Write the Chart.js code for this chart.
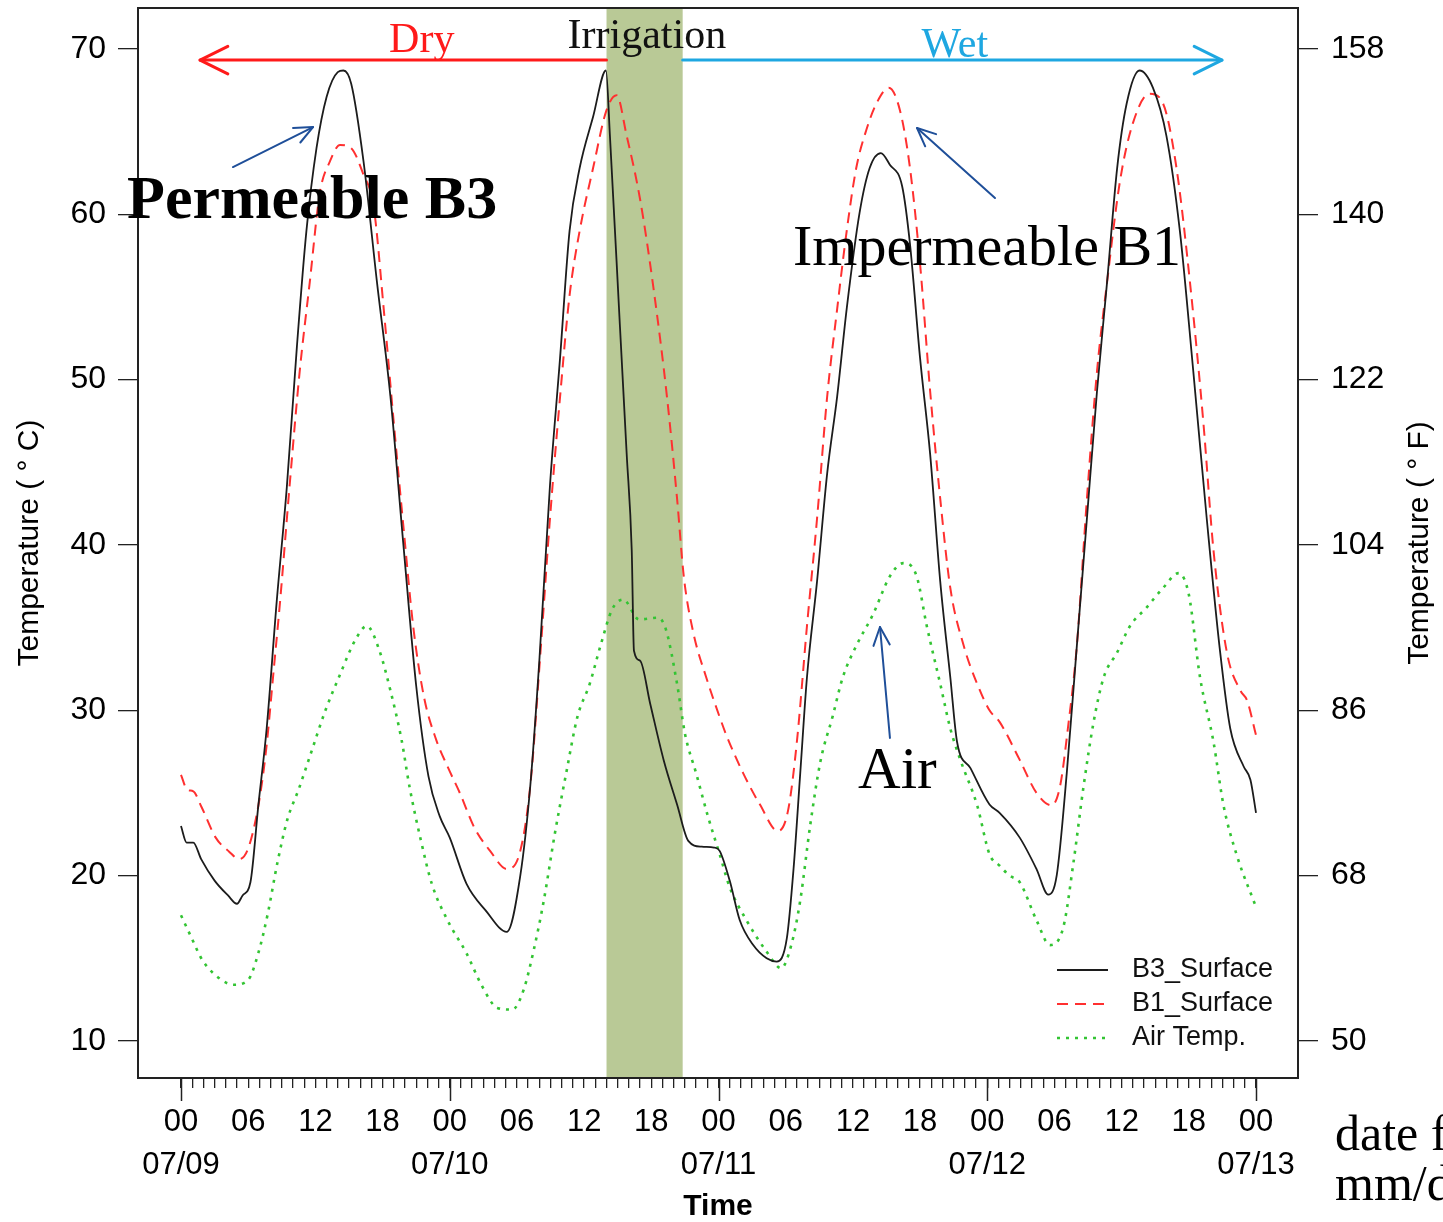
<!DOCTYPE html>
<html>
<head>
<meta charset="utf-8">
<script src="https://cdn.jsdelivr.net/npm/chart.js@4.4.1/dist/chart.umd.min.js"></script>
<style>
html,body{margin:0;padding:0;background:#ffffff;}
canvas{display:block;}
</style>
</head>
<body>
<canvas id="c" width="1443" height="1222"></canvas>
<script>
// ---------------- DATA (hours since 07/09 00:00, temperature in deg C) ----------------
const b3Hours = [0,0.5,1.1,1.8,3.0,4.2,5.0,5.5,6.2,6.9,7.65,8.55,9.45,10.35,11.2,12.1,13.0,14.0,14.5,15.2,16.3,17.5,18.7,19.85,21.0,22.1,23.1,24.0,25.5,27.2,29.1,30.3,31.2,32.0,32.95,33.85,34.7,35.6,36.8,37.95,38.3,39.2,39.8,40.25,40.45,41.0,41.9,43.1,44.3,45.3,46.5,47.6,48.1,49.0,49.9,51.1,52.3,53.2,54.1,54.7,55.3,55.9,56.8,57.7,58.6,59.45,60.6,61.5,62.5,63.3,64.4,65.1,66.0,66.9,67.8,68.7,69.3,70.5,72.2,73.1,74.9,76.4,77.45,78.2,79.1,80.0,80.9,81.8,82.7,83.6,84.45,85.6,86.8,88.0,89.2,90.4,91.6,92.8,93.7,94.9,95.5,96.0];
const b3Temp  = [23.0,22.0,22.0,21.0,19.7,18.8,18.3,18.8,19.6,24.2,28.9,36.6,43.5,52.0,59.0,64.0,67.1,68.6,68.7,67.9,63.2,55.9,49.0,40.1,31.5,26.0,23.6,22.3,19.5,17.9,16.6,20.0,25.5,33.0,43.6,51.3,59.0,62.8,65.9,68.7,64.8,53.2,45.5,39.7,33.6,33.0,30.4,27.0,24.3,22.1,21.75,21.7,21.5,19.7,17.3,15.8,15.0,14.8,16.2,20.4,26.2,32.0,37.8,44.3,49.0,54.3,60.1,62.8,63.7,63.0,61.7,58.2,51.3,45.5,37.8,32.0,28.1,26.5,24.3,23.8,22.3,20.4,18.85,20.0,26.2,33.9,41.6,49.3,55.9,62.8,66.7,68.7,67.65,64.75,59.0,50.5,41.6,33.5,28.9,26.6,25.8,23.8];

const b1Hours = [0,0.55,1.1,1.8,3.1,4.3,5.2,6.0,6.9,7.6,8.3,8.85,9.7,10.6,11.5,12.4,13.3,14.2,15.2,16.3,17.2,18.1,19.0,19.85,20.75,21.7,22.8,23.8,24.9,26.2,27.6,29.1,30.3,31.2,32.1,32.95,33.85,34.7,35.6,36.8,38.0,38.9,39.8,41.0,42.2,43.4,44.3,44.9,45.75,46.9,48.1,48.7,50.2,51.7,53.3,54.2,55.0,55.9,56.8,57.7,58.6,59.45,60.3,61.2,62.1,63.2,64.2,65.1,66.0,66.9,67.8,68.7,69.9,71.1,72.2,73.1,74.9,76.4,77.75,78.5,79.2,80.0,80.9,81.8,82.7,83.85,85.0,86.5,87.7,88.9,90.1,91.3,92.2,93.4,94.6,95.2,96.0];
const b1Temp  = [26.1,25.2,25.1,24.2,22.3,21.45,21.0,21.65,24.2,27.6,32.6,36.6,43.6,50.5,55.9,61.3,63.2,64.2,64.0,62.4,60.5,54.3,47.4,41.2,35.0,30.8,28.2,26.6,25.0,22.9,21.5,20.4,21.5,25.5,33.5,41.6,48.95,55.1,59.0,62.8,66.3,67.2,64.75,60.9,55.5,48.95,42.8,38.1,34.7,32.0,29.6,28.5,26.2,24.3,22.7,23.9,28.1,35.1,41.6,48.95,54.3,59.0,62.8,65.1,66.7,67.65,66.3,62.8,57.0,49.3,42.8,37.4,33.9,31.6,30.0,29.3,27.0,25.0,24.25,25.4,28.9,33.9,42.8,50.5,55.9,62.0,65.5,67.3,66.7,62.8,55.9,47.4,39.7,33.5,31.2,30.6,28.5];

const airHours = [0,0.9,1.9,3.6,4.7,6.0,6.9,7.75,8.6,9.5,10.5,11.5,12.9,14.1,15.6,16.6,17.7,18.7,19.7,20.4,21.4,22.4,23.8,25.5,26.9,28.25,29.6,30.6,31.5,32.4,33.4,34.4,35.4,36.5,37.5,38.5,39.5,40.9,42.6,43.3,44.3,45.0,46.0,47.05,48.1,49.0,50.5,52.3,53.6,54.5,55.3,56.2,57.1,58.2,59.1,60.3,61.8,63.3,64.5,65.7,66.6,67.8,68.7,69.6,71.1,72.2,73.1,74.0,74.9,76.4,77.6,78.8,79.7,80.6,81.5,82.4,83.6,84.75,86.2,87.7,89.1,90.0,91.0,92.2,93.1,94.3,96.0];
const airTemp  = [17.6,16.3,14.9,13.7,13.4,13.7,15.3,17.7,20.75,23.4,25.2,27.2,30.0,32.0,34.3,35.1,33.65,31.2,28.2,25.4,22.2,19.5,17.3,15.3,13.3,12.0,11.9,13.1,15.5,18.5,22.6,26.2,29.6,31.6,34.0,36.1,36.7,35.5,35.6,34.9,31.6,28.6,26.2,23.6,21.3,19.3,17.3,15.4,14.4,15.8,18.5,23.1,26.9,29.65,32.0,33.9,35.8,38.1,38.9,38.1,35.1,31.6,28.9,27.0,24.25,21.3,20.6,20.0,19.6,17.3,15.8,16.9,20.8,25.4,29.3,32.0,33.5,35.1,36.2,37.4,38.3,37.0,32.0,28.1,24.25,21.2,18.1];

const seriesLabels = ['B3_Surface','B1_Surface','Air Temp.'];
const dayLabels   = ['07/09','07/10','07/11','07/12','07/13'];
const hourLabels  = ['00','06','12','18'];
const yTicksC     = [10,20,30,40,50,60,70];
const yTicksF     = [50,68,86,104,122,140,158];
const irrigation  = [38.0, 44.8];   // shaded irrigation period (hours)

// ---------------- STYLE ----------------
const SANS  = '"Liberation Sans", Arial, Helvetica, sans-serif';
const SERIF = '"Liberation Serif", "Times New Roman", Times, serif';
const X_MIN = -3.84, X_MAX = 99.75, Y_MIN = 7.76, Y_MAX = 72.48;
const toF = c => c * 1.8 + 32;
const pts = (h, t) => h.map((v, i) => ({x: v, y: t[i]}));

const tickHours = [];
for (let h = 0; h <= 96; h++) tickHours.push(h);

function arrow(ctx, x1, y1, x2, y2, len, ang, color, w) {
  ctx.save();
  ctx.strokeStyle = color; ctx.lineWidth = w; ctx.lineCap = 'round'; ctx.lineJoin = 'round';
  ctx.beginPath(); ctx.moveTo(x1, y1); ctx.lineTo(x2, y2); ctx.stroke();
  const a = Math.atan2(y2 - y1, x2 - x1);
  ctx.beginPath();
  ctx.moveTo(x2 - len * Math.cos(a - ang), y2 - len * Math.sin(a - ang));
  ctx.lineTo(x2, y2);
  ctx.lineTo(x2 - len * Math.cos(a + ang), y2 - len * Math.sin(a + ang));
  ctx.stroke();
  ctx.restore();
}

const decor = {
  id: 'decor',
  beforeDatasetsDraw(chart) {
    const {ctx, chartArea: a, scales: {x}} = chart;
    const x0 = x.getPixelForValue(irrigation[0]), x1 = x.getPixelForValue(irrigation[1]);
    ctx.save();
    ctx.fillStyle = '#b9c996';
    ctx.fillRect(x0, a.top, x1 - x0, a.bottom - a.top);
    ctx.restore();
  },
  afterDraw(chart) {
    const {ctx, chartArea: a, scales: {x, y}} = chart;
    const X = h => x.getPixelForValue(h), Y = c => y.getPixelForValue(c);
    ctx.save();
    // plot box
    ctx.strokeStyle = '#222'; ctx.lineWidth = 2;
    ctx.strokeRect(a.left, a.top, a.right - a.left, a.bottom - a.top);
    // long day ticks
    ctx.lineWidth = 1.5; ctx.strokeStyle = '#222';
    for (let d = 0; d < dayLabels.length; d++) {
      const px = Math.round(X(d * 24)) + 0.5;
      ctx.beginPath(); ctx.moveTo(px, a.bottom); ctx.lineTo(px, a.bottom + 23); ctx.stroke();
    }
    // right axis title
    ctx.save();
    ctx.translate(1420, (a.top + a.bottom) / 2);
    ctx.rotate(-Math.PI / 2);
    ctx.font = '30px ' + SANS; ctx.fillStyle = '#000';
    ctx.textAlign = 'center'; ctx.textBaseline = 'middle';
    ctx.fillText('Temperature ( \u00b0 F)', 0, 0);
    ctx.restore();

    // period arrows
    arrow(ctx, X(irrigation[0]), Y(69.33), X(1.7), Y(69.33), 31, 0.46, '#ff1a1a', 3);
    arrow(ctx, X(irrigation[1]), Y(69.33), X(92.96), Y(69.33), 31, 0.46, '#1ea7e1', 3);
    ctx.textAlign = 'center'; ctx.textBaseline = 'alphabetic';
    ctx.font = '42px ' + SERIF;
    ctx.fillStyle = '#ff1a1a'; ctx.fillText('Dry', X(21.5), Y(69.82));
    ctx.fillStyle = '#111';    ctx.fillText('Irrigation', X(41.6), Y(70.06));
    ctx.fillStyle = '#1ea7e1'; ctx.fillText('Wet', X(69.1), Y(69.52));

    // callouts
    ctx.textAlign = 'left';
    ctx.fillStyle = '#000';
    ctx.font = 'bold 62px ' + SERIF;
    ctx.fillText('Permeable B3', X(-4.82), Y(59.78));
    ctx.font = '58px ' + SERIF;
    ctx.fillText('Impermeable B1', X(54.65), Y(56.94));
    ctx.font = '59px ' + SERIF;
    ctx.fillText('Air', X(60.46), Y(25.3));
    const blue = '#1f4f99';
    arrow(ctx, X(4.64), Y(62.86), X(11.79), Y(65.28), 20, 0.42, blue, 2);
    arrow(ctx, X(72.69), Y(60.99), X(65.73), Y(65.22), 20, 0.42, blue, 2);
    arrow(ctx, X(63.31), Y(28.33), X(62.42), Y(35.04), 20, 0.42, blue, 2);

    // legend (inside plot, bottom right)
    const ds = chart.data.datasets;
    const rows = [a.bottom - 108, a.bottom - 74, a.bottom - 40];
    ctx.font = '27px ' + SANS; ctx.textBaseline = 'middle';
    ds.forEach((d, i) => {
      ctx.save();
      ctx.strokeStyle = d.borderColor; ctx.lineWidth = d.borderWidth;
      ctx.setLineDash(d.borderDash || []);
      ctx.beginPath(); ctx.moveTo(a.right - 241, rows[i]); ctx.lineTo(a.right - 190, rows[i]); ctx.stroke();
      ctx.restore();
      ctx.fillStyle = '#111';
      ctx.fillText(d.label, a.right - 166, rows[i]);
    });

    // trailing slide text at bottom right
    ctx.textBaseline = 'alphabetic';
    ctx.font = '50px ' + SERIF; ctx.fillStyle = '#000';
    ctx.fillText('date format', 1335, 1150);
    ctx.fillText('mm/dd', 1335, 1200);
    ctx.restore();
  }
};

const noPad = s => { s.paddingTop = 0; s.paddingBottom = 0; s.paddingLeft = 0; s.paddingRight = 0; };

new Chart(document.getElementById('c'), {
  type: 'line',
  data: {
    datasets: [
      {label: seriesLabels[0], data: pts(b3Hours, b3Temp), borderColor: '#1c1c1c', borderWidth: 1.8, pointRadius: 0, cubicInterpolationMode: 'monotone'},
      {label: seriesLabels[1], data: pts(b1Hours, b1Temp), borderColor: '#ff3030', borderWidth: 2, borderDash: [11, 7], pointRadius: 0, cubicInterpolationMode: 'monotone'},
      {label: seriesLabels[2], data: pts(airHours, airTemp), borderColor: '#33c433', borderWidth: 2.6, borderDash: [3, 6], pointRadius: 0, cubicInterpolationMode: 'monotone'}
    ]
  },
  options: {
    responsive: false, animation: false,
    layout: {padding: {top: 8, left: 0, right: 0, bottom: 0}},
    plugins: {legend: {display: false}, tooltip: {enabled: false}},
    scales: {
      x: {
        type: 'linear', min: X_MIN, max: X_MAX,
        afterBuildTicks: s => { s.ticks = tickHours.map(v => ({value: v})); },
        afterFit: s => { s.height = 144; noPad(s); },
        border: {display: false},
        grid: {display: true, drawOnChartArea: false, drawTicks: true, tickLength: 10, color: '#222', lineWidth: 1.3},
        ticks: {
          autoSkip: false, maxRotation: 0, minRotation: 0, padding: 13, color: '#000',
          font: {family: SANS, size: 31, lineHeight: 1.39},
          callback: v => {
            if (v % 24 === 0) return [hourLabels[0], dayLabels[v / 24]];
            if (v % 6 === 0) return hourLabels[(v % 24) / 6];
            return '';
          }
        },
        title: {display: true, text: 'Time', color: '#000', font: {family: SANS, size: 30, weight: 'bold', lineHeight: 1}, padding: {top: 0, bottom: 0}}
      },
      y: {
        type: 'linear', position: 'left', min: Y_MIN, max: Y_MAX,
        afterBuildTicks: s => { s.ticks = yTicksC.map(v => ({value: v})); },
        afterFit: s => { s.width = 138; noPad(s); },
        border: {display: false},
        grid: {display: true, drawOnChartArea: false, tickLength: 20, color: '#222', lineWidth: 1.3},
        ticks: {padding: 12, color: '#000', font: {family: SANS, size: 32}},
        title: {display: true, text: 'Temperature ( \u00b0 C)', color: '#000', font: {family: SANS, size: 30, lineHeight: 1}, padding: {top: 15, bottom: 0}}
      },
      yF: {
        type: 'linear', position: 'right', min: toF(Y_MIN), max: toF(Y_MAX),
        afterBuildTicks: s => { s.ticks = yTicksF.map(v => ({value: v})); },
        afterFit: s => { s.width = 145; noPad(s); },
        border: {display: false},
        grid: {display: true, drawOnChartArea: false, tickLength: 20, color: '#222', lineWidth: 1.3},
        ticks: {padding: 13, color: '#000', font: {family: SANS, size: 32}}
      }
    }
  },
  plugins: [decor]
});
</script>
</body>
</html>
